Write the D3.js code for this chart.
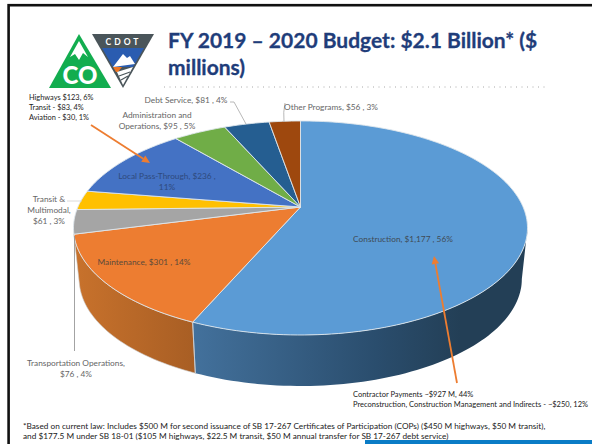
<!DOCTYPE html>
<html>
<head>
<meta charset="utf-8">
<script src="https://d3js.org/d3.v7.min.js"></script>
<style>
  html, body { margin: 0; padding: 0; background: #fff; }
  svg { display: block; }
  text { font-family: Lato, "Noto Sans", sans-serif; }
</style>
</head>
<body>
<svg width="592" height="444"></svg>
<script>
let categories = ["Construction", "Maintenance", "Transportation Operations", "Transit & Multimodal", "Local Pass-Through", "Administration and Operations", "Debt Service", "Other Programs"];
let values = [1177, 301, 76, 61, 236, 95, 81, 56];
let colors = ["#5b9bd5", "#ed7d31", "#a5a5a5", "#ffc000", "#4472c4", "#70ad47", "#255e91", "#9e480e"];

let titleLines = ["FY 2019 \u2013 2020 Budget: $2.1 Billion* ($", "millions)"];
let contractorNotes = ["Contractor Payments ~$927 M, 44%", "Preconstruction, Construction Management and Indirects - ~$250, 12%"];
let passThroughNotes = ["Highways $123, 6%", "Transit - $83, 4%", "Aviation - $30, 1%"];
let footnotes = [
  "*Based on current law: Includes $500 M for second issuance of SB 17-267 Certificates of Participation (COPs) ($450 M highways, $50 M transit),",
  "and $177.5 M under SB 18-01 ($105 M highways, $22.5 M transit, $50 M annual transfer for SB 17-267 debt service)"
];

let svg = d3.select("svg");

// gradients for the pie's side wall
let defs = svg.append("defs");
let addGradient = (id, stops) => {
  let g = defs.append("linearGradient").attr("id", id);
  stops.forEach((s) => g.append("stop").attr("offset", s[0]).attr("stop-color", s[1]));
};
addGradient("sideBlue", [[0, "#43719c"], [0.55, "#2a4d6d"], [0.8, "#233f56"], [1, "#233f56"]]);
addGradient("sideOrange", [[0, "#c8722c"], [1, "#a85e24"]]);

// slide frame
svg.append("rect").attr("x", 8.6).attr("y", 5.2).attr("width", 600).attr("height", 460)
  .attr("fill", "#fff").attr("stroke", "#111").attr("stroke-width", 2.6);
svg.append("rect").attr("x", 365).attr("y", 440).attr("width", 227).attr("height", 4).attr("fill", "#0a7cc6");

// title
svg.selectAll(".title").data(titleLines).join("text")
  .attr("class", "title")
  .attr("x", 168)
  .attr("y", (d, i) => 48 + i * 27)
  .attr("font-size", 21)
  .attr("font-weight", 700)
  .attr("stroke", "#1f3d7a")
  .attr("stroke-width", 0.3)
  .attr("fill", "#1f3d7a")
  .text((d) => d);

svg.append("line").attr("x1", 164).attr("x2", 547).attr("y1", 87).attr("y2", 87)
  .attr("stroke", "#a8a8a8").attr("stroke-width", 1).attr("stroke-dasharray", "1 4.5");

// logos
let logo = svg.append("g");
logo.append("path").attr("d", "M79 34L49 88H111Z").attr("fill", "#12ad4f");
logo.append("path").attr("d", "M79 41L70 57L75 54L79 60L83 53L88 57Z").attr("fill", "#fff");
logo.append("text").attr("x", 80).attr("y", 84).attr("text-anchor", "middle")
  .attr("font-size", 24).attr("font-weight", 900).attr("fill", "#fff").text("CO");
logo.append("path").attr("d", "M92 34H154L123 88Z").attr("fill", "#4a555a");
logo.append("text").attr("x", 123.5).attr("y", 45).attr("text-anchor", "middle")
  .attr("font-size", 8.5).attr("font-weight", 700).attr("letter-spacing", 3).attr("fill", "#fff").text("CDOT");
logo.append("path").attr("d", "M102 48H144L133 67H113Z").attr("fill", "#2a5cb0");
logo.append("path").attr("d", "M113 67L123 54L127 58L130 56L135 64Z").attr("fill", "#fff");
logo.append("path").attr("d", "M113 67H122L118 72H116Z").attr("fill", "#ee7623");
logo.append("path").attr("d", "M117 72L133 67L123 85Z").attr("fill", "#fff");
logo.append("path").attr("d", "M119 76L130 72M121 80L128 76").attr("stroke", "#4a555a").attr("stroke-width", 1.2);

// perspective pie: circle points go through a projective map so the
// centre of the pie sits above the centre of the drawn ellipse
let cx = 300.5, cy = 207, a = 222.6, b = 102.9, p = 0.196;
let depth = 51, bottomScale = 0.975;

let rimPoint = (t) => {
  let u = Math.sin(t), v = -Math.cos(t), w = 1 - p * v;
  return [cx + (a * u) / w, cy + (b * v) / w];
};
let bottomPoint = (t) => {
  let q = rimPoint(t);
  return [cx + (q[0] - cx) * bottomScale, q[1] + depth];
};
let sampleAngles = (t0, t1) => {
  let n = Math.max(2, Math.ceil(Math.abs(t1 - t0) * 40));
  return d3.range(n + 1).map((i) => t0 + ((t1 - t0) * i) / n);
};
let line = d3.line();

let arcs = d3.pie().sort(null).value((d) => d)(values);

// side wall: only the front facing part is visible
let rightEdge = Math.acos(-p);
let leftEdge = arcs[2].startAngle;
let sideFill = ["url(#sideBlue)", "url(#sideOrange)"];
[arcs[0], arcs[1]].forEach((d, i) => {
  let t0 = Math.max(d.startAngle, rightEdge);
  let t1 = Math.min(d.endAngle, leftEdge);
  let angles = sampleAngles(t0, t1);
  let pts = angles.map(rimPoint).concat(angles.slice().reverse().map(bottomPoint));
  svg.append("path")
    .attr("d", line(pts) + "Z")
    .attr("fill", sideFill[i])
    .attr("stroke", i == 1 ? "#c9c9c9" : "none")
    .attr("stroke-width", 0.6);
});
svg.append("line")
  .attr("x1", rimPoint(arcs[0].endAngle)[0]).attr("y1", rimPoint(arcs[0].endAngle)[1])
  .attr("x2", bottomPoint(arcs[0].endAngle)[0]).attr("y2", bottomPoint(arcs[0].endAngle)[1])
  .attr("stroke", "#c5ccd3").attr("stroke-width", 1);

// top face
svg.append("g").selectAll("path").data(arcs).join("path")
  .attr("d", (d) => {
    let pts = sampleAngles(d.startAngle, d.endAngle).map(rimPoint);
    return line([[cx, cy]].concat(pts)) + "Z";
  })
  .attr("fill", (d, i) => colors[i])
  .attr("stroke", "#dfe6ec")
  .attr("stroke-width", 0.9)
  .attr("stroke-linejoin", "round");

// leader lines
let leaders = svg.append("g").attr("fill", "none").attr("stroke", "#a6a6a6").attr("stroke-width", 0.8);
leaders.append("path").attr("d", "M230 102H234L246 124");
leaders.append("path").attr("d", "M285 103Q283 112 284 122");
leaders.append("path").attr("d", "M67 201H82").attr("stroke", "#d0d0d0");
leaders.append("path").attr("d", "M74.5 236V351").attr("stroke", "#8c8c8c");

// data labels
let addLabel = (lines, x, y, fill) => {
  svg.append("text")
    .attr("text-anchor", "middle")
    .attr("font-size", 8.3)
    .attr("fill", fill)
    .selectAll("tspan").data(lines).join("tspan")
    .attr("x", x)
    .attr("y", (d, i) => y + i * 11)
    .text((d) => d);
};
let darkOnFill = "#404b55";
let gray = "#666";
addLabel(["Construction,  $1,177 , 56%"], 403, 242, darkOnFill);
addLabel(["Maintenance,  $301 , 14%"], 144, 265, "#5c4a3a");
addLabel(["Local Pass-Through,  $236 ,", "11%"], 167, 179, "#2f4a7d");
addLabel(["Transit &", "Multimodal,", "$61 , 3%"], 49, 202, gray);
addLabel(["Administration and", "Operations,  $95 , 5%"], 157, 118, gray);
addLabel(["Debt Service,  $81 , 4%"], 186, 103, gray);
addLabel(["Other Programs,  $56 , 3%"], 331, 110, gray);
addLabel(["Transportation Operations,", "$76 , 4%"], 76, 366, gray);

// call-out notes
let addNotes = (lines, x, y, step, size) => {
  svg.append("g").selectAll("text").data(lines).join("text")
    .attr("x", x)
    .attr("y", (d, i) => y + i * step)
    .attr("font-size", size)
    .attr("fill", "#222")
    .text((d) => d);
};
addNotes(passThroughNotes, 29, 100, 10, 7.4);
addNotes(contractorNotes, 353, 397, 10, 7.5);
addNotes(footnotes, 23, 429, 10, 8.25);

// orange arrows
let addArrow = (x1, y1, x2, y2) => {
  let ang = Math.atan2(y2 - y1, x2 - x1);
  let len = 8, wing = 3.8;
  let bx = x2 - len * Math.cos(ang), by = y2 - len * Math.sin(ang);
  svg.append("line").attr("x1", x1).attr("y1", y1).attr("x2", bx).attr("y2", by)
    .attr("stroke", "#ed7d31").attr("stroke-width", 1.8);
  svg.append("path")
    .attr("d", line([
      [x2, y2],
      [bx - wing * Math.sin(ang), by + wing * Math.cos(ang)],
      [bx + wing * Math.sin(ang), by - wing * Math.cos(ang)]
    ]) + "Z")
    .attr("fill", "#ed7d31");
};
addArrow(91, 125, 150, 163);
addArrow(457, 383, 434, 256);
</script>
</body>
</html>
